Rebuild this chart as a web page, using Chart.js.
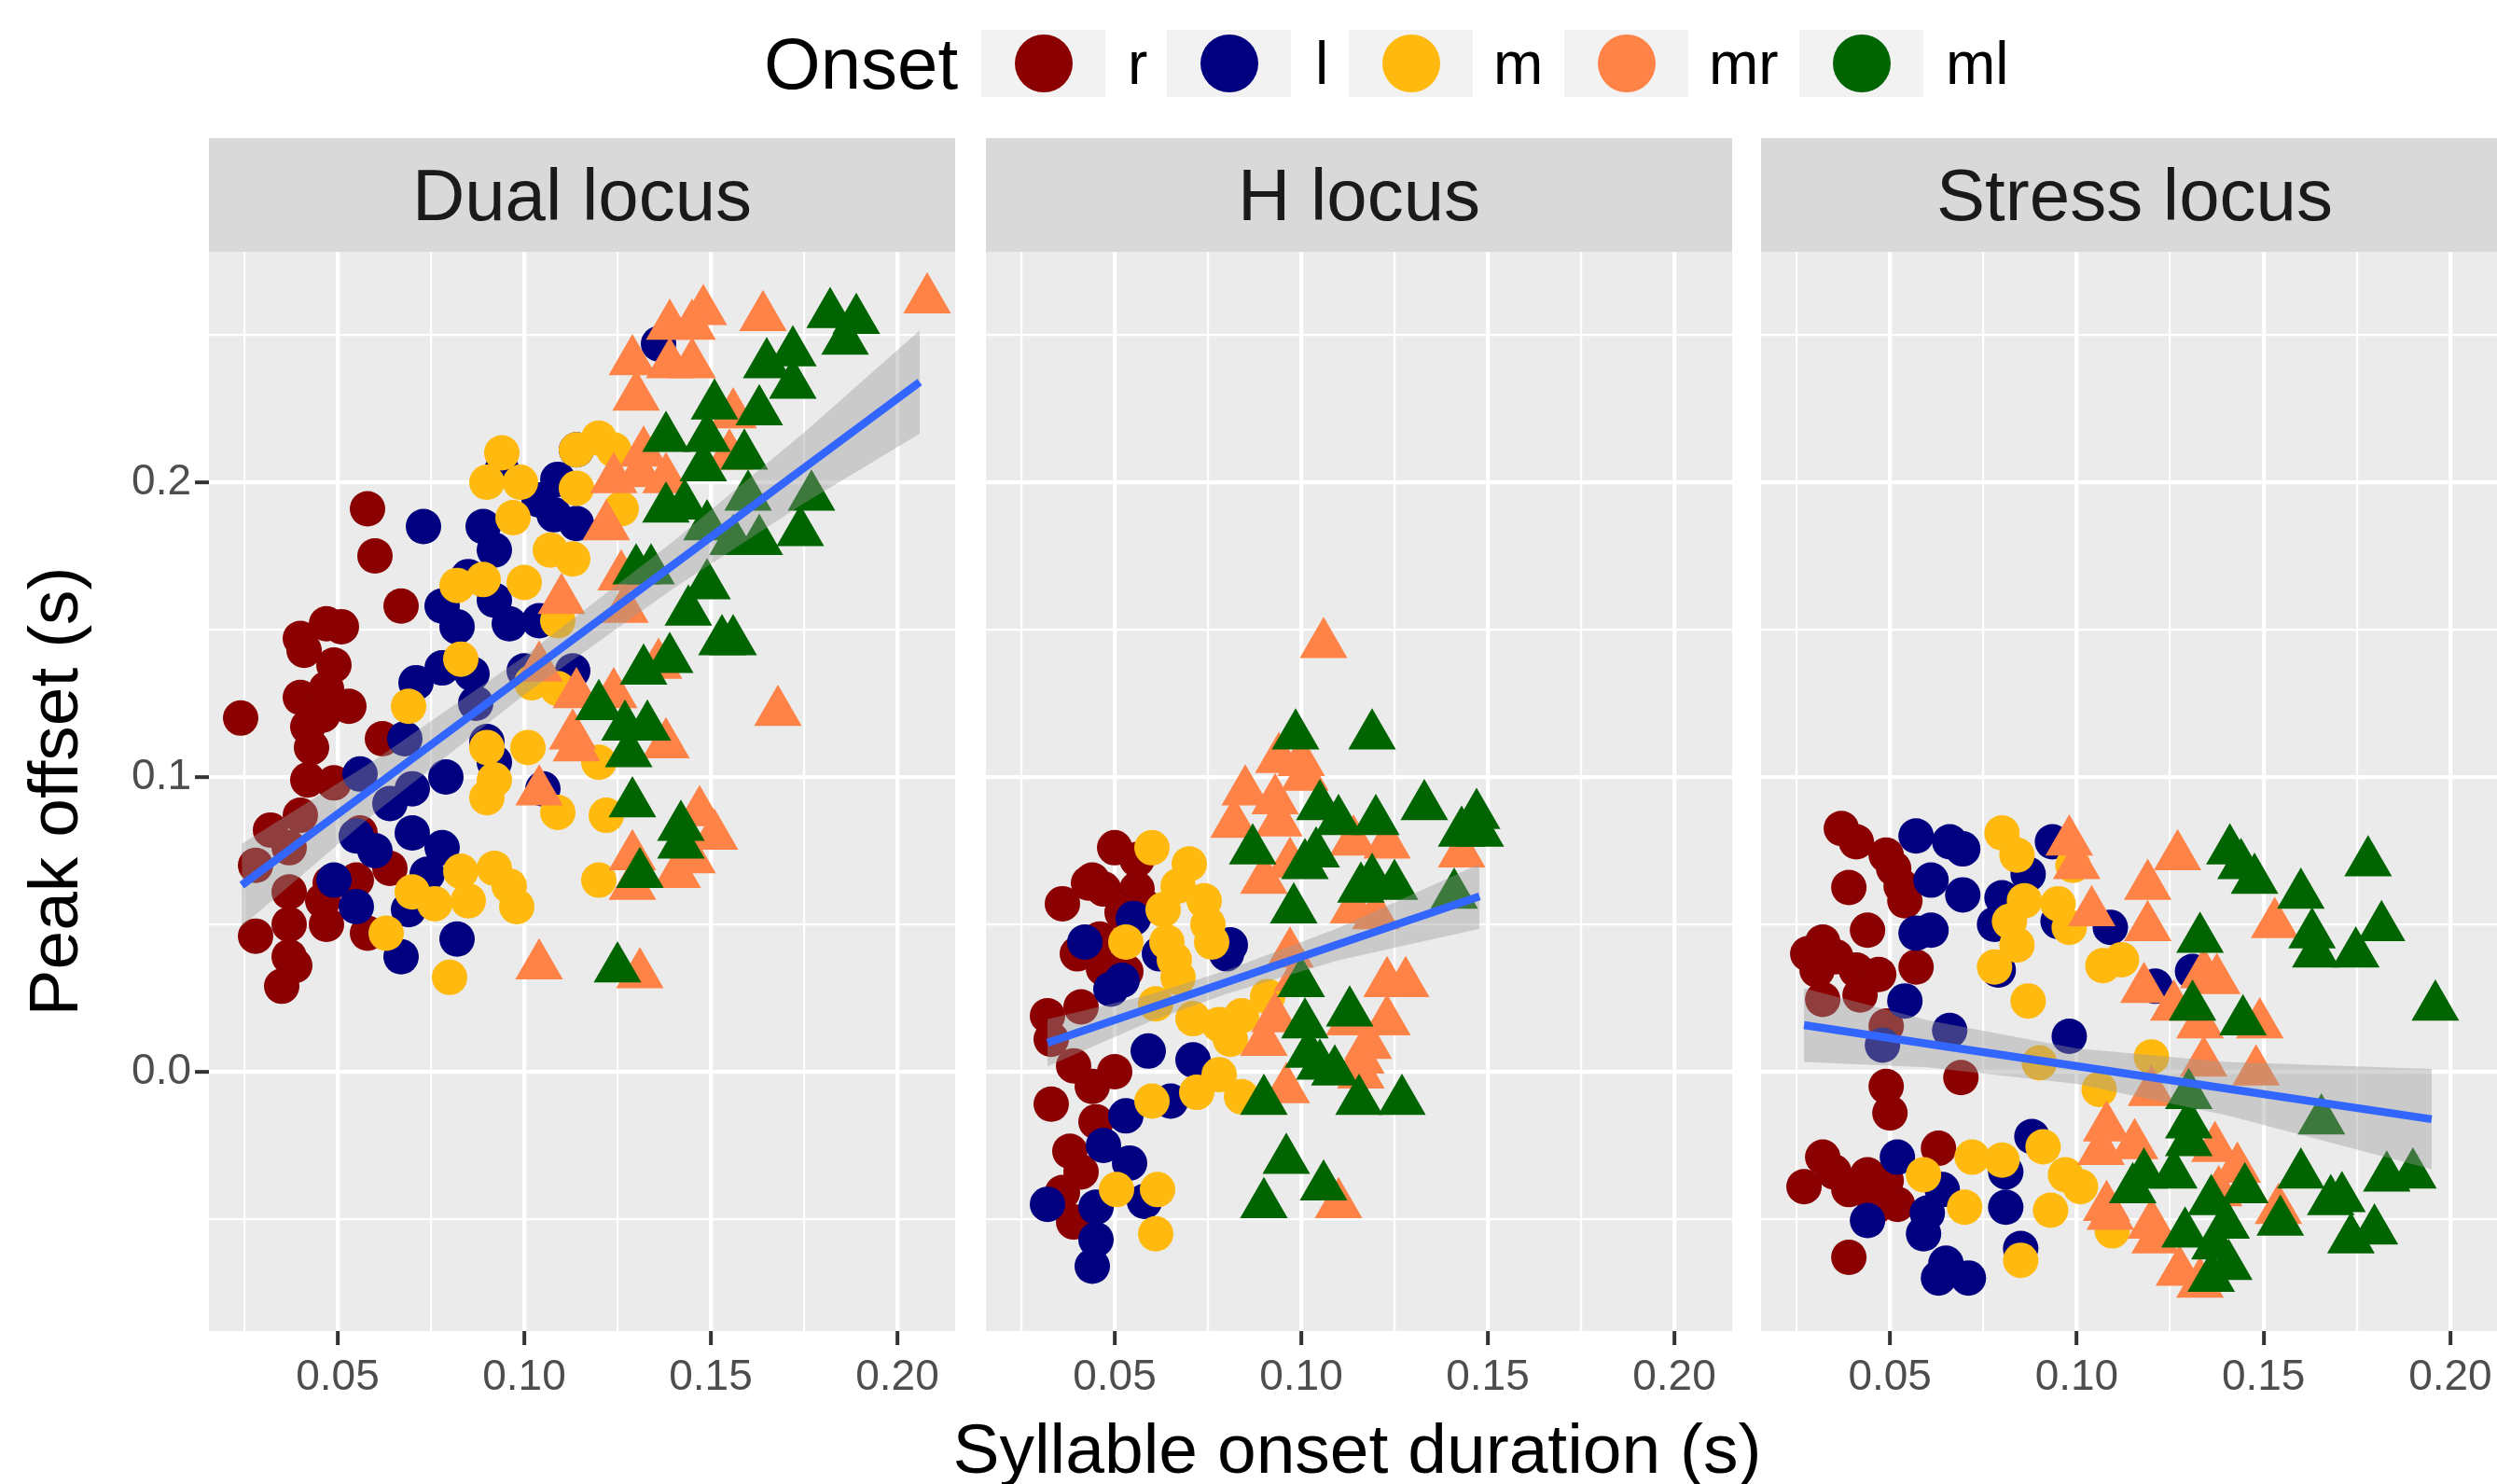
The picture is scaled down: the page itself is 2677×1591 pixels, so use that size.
<!DOCTYPE html>
<html lang="en">
<head>
<meta charset="UTF-8">
<title>Peak offset by syllable onset duration</title>
<script src="https://cdn.jsdelivr.net/npm/chart.js"></script>
<style>
    body { margin: 0; width: 2677px; height: 1591px; overflow: hidden; background: #fff; position: relative;
           font-family: "Liberation Sans", Arial, sans-serif; }
    canvas { position: absolute; top: 230px; }
    .strip { position: absolute; top: 148px; height: 122px; line-height: 122px; background: #D9D9D9;
             color: #1A1A1A; font-size: 78px; text-align: center; }
    .key { position: absolute; top: 32px; width: 133px; height: 72px; background: #F2F2F2; }
    .key span { position: absolute; left: 36px; top: 5px; width: 62px; height: 62px; border-radius: 50%; }
    .lab { position: absolute; top: 32px; height: 72px; line-height: 72px; font-size: 64px; color: #000; }
    #xtitle { position: absolute; left: 0; width: 2910px; top: 1516px; font-size: 75px; line-height: 75px;
              text-align: center; color: #000; }
</style>
</head>
<body>

<div class="lab" style="left: 819px; font-size: 78px;">Onset</div>
<div id="legend"></div>

<div class="strip" style="left: 224px; width: 800px;" id="strip0"></div>
<div class="strip" style="left: 1057px; width: 800px;" id="strip1"></div>
<div class="strip" style="left: 1888px; width: 801px;" id="strip2"></div>

<canvas id="dual" width="1024" height="1361" style="left: 0;"></canvas>
<canvas id="hloc" width="800" height="1361" style="left: 1057px;"></canvas>
<canvas id="stress" width="801" height="1361" style="left: 1888px;"></canvas>

<div id="xtitle">Syllable onset duration (s)</div>

<script>
// categories
const onsets = ['r', 'l', 'm', 'mr', 'ml'];
const onsetColours = ['#8B0000', '#000080', '#FFB90F', '#FF8247', '#006400'];
const onsetShapes = ['circle', 'circle', 'circle', 'triangle', 'triangle'];
const panelTitles = ['Dual locus', 'H locus', 'Stress locus'];

// tick positions (minor + major)
const xTicks = [0.025, 0.05, 0.075, 0.1, 0.125, 0.15, 0.175, 0.2];
const yTicks = [-0.05, 0, 0.05, 0.1, 0.15, 0.2, 0.25];

// Dual locus: [onset duration, peak offset]
const dualR = [[0.058,0.191],[0.060,0.175],[0.067,0.158],[0.047,0.152],[0.051,0.151],[0.040,0.147],
    [0.024,0.120],[0.041,0.143],[0.049,0.138],[0.040,0.127],[0.047,0.130],[0.053,0.124],[0.042,0.117],
    [0.046,0.121],[0.043,0.110],[0.042,0.099],[0.049,0.098],[0.062,0.113],[0.040,0.087],[0.032,0.082],
    [0.028,0.070],[0.037,0.076],[0.037,0.061],[0.046,0.058],[0.028,0.046],[0.037,0.050],[0.047,0.050],
    [0.058,0.047],[0.037,0.039],[0.0385,0.036],[0.035,0.029],[0.056,0.081],[0.064,0.069],[0.055,0.065],
    [0.048,0.064]];
const dualL = [[0.136,0.247],[0.073,0.185],[0.089,0.185],[0.092,0.177],[0.094,0.204],[0.109,0.201],
    [0.104,0.194],[0.114,0.186],[0.108,0.189],[0.114,0.211],[0.078,0.158],[0.082,0.151],[0.092,0.160],
    [0.096,0.152],[0.104,0.153],[0.085,0.168],[0.071,0.132],[0.078,0.137],[0.086,0.135],[0.087,0.125],
    [0.068,0.113],[0.056,0.101],[0.079,0.100],[0.070,0.096],[0.064,0.091],[0.070,0.081],[0.055,0.080],
    [0.060,0.075],[0.074,0.067],[0.078,0.076],[0.049,0.065],[0.055,0.056],[0.069,0.055],[0.082,0.045],
    [0.067,0.039],[0.092,0.105],[0.105,0.096],[0.100,0.136],[0.113,0.136],[0.090,0.112]];
const dualM = [[0.094,0.210],[0.090,0.200],[0.099,0.200],[0.114,0.211],[0.120,0.215],[0.124,0.211],
    [0.114,0.198],[0.097,0.188],[0.126,0.191],[0.107,0.177],[0.113,0.174],[0.082,0.165],[0.089,0.167],
    [0.100,0.166],[0.109,0.153],[0.083,0.140],[0.069,0.124],[0.090,0.110],[0.101,0.110],[0.092,0.099],
    [0.090,0.093],[0.109,0.088],[0.122,0.087],[0.102,0.132],[0.109,0.130],[0.120,0.105],[0.120,0.065],
    [0.070,0.061],[0.083,0.068],[0.092,0.069],[0.096,0.063],[0.098,0.056],[0.085,0.058],[0.076,0.057],
    [0.063,0.047],[0.080,0.032]];
const dualMR = [[0.208,0.262],[0.164,0.256],[0.148,0.258],[0.145,0.253],[0.139,0.253],[0.129,0.241],
    [0.139,0.240],[0.145,0.240],[0.130,0.229],[0.156,0.223],[0.132,0.210],[0.155,0.209],[0.124,0.201],
    [0.131,0.203],[0.138,0.201],[0.122,0.185],[0.126,0.168],[0.110,0.160],[0.127,0.157],[0.104,0.137],
    [0.114,0.128],[0.124,0.128],[0.136,0.138],[0.168,0.122],[0.113,0.114],[0.114,0.110],[0.138,0.111],
    [0.104,0.095],[0.147,0.088],[0.151,0.080],[0.129,0.073],[0.145,0.072],[0.141,0.067],[0.129,0.063],
    [0.104,0.036],[0.131,0.033]];
const dualML = [[0.182,0.257],[0.189,0.255],[0.186,0.248],[0.172,0.244],[0.172,0.233],[0.165,0.240],
    [0.151,0.226],[0.163,0.224],[0.138,0.215],[0.149,0.215],[0.159,0.209],[0.148,0.205],[0.138,0.191],
    [0.143,0.192],[0.149,0.185],[0.160,0.195],[0.177,0.195],[0.174,0.183],[0.163,0.180],[0.156,0.180],
    [0.130,0.170],[0.134,0.170],[0.149,0.165],[0.144,0.156],[0.153,0.146],[0.156,0.146],[0.132,0.136],
    [0.139,0.140],[0.120,0.124],[0.127,0.117],[0.133,0.117],[0.128,0.108],[0.129,0.091],[0.142,0.083],
    [0.142,0.077],[0.131,0.067],[0.125,0.035]];
const dualFitX = [0.0243, 0.06, 0.10, 0.14, 0.175, 0.206];
const dualFitY = [0.0633, 0.0968, 0.1344, 0.172, 0.2049, 0.234];
const dualUpper = [0.0773, 0.1058, 0.1409, 0.180, 0.2169, 0.2515];
const dualLower = [0.0493, 0.0878, 0.1279, 0.164, 0.1929, 0.2165];

// H locus
const hR = [[0.050,0.076],[0.056,0.072],[0.044,0.065],[0.036,0.057],[0.047,0.062],[0.056,0.062],
    [0.052,0.054],[0.058,0.056],[0.043,0.064],[0.0525,0.0335],[0.032,0.019],[0.041,0.022],[0.033,0.011],
    [0.053,0.034],[0.047,0.035],[0.039,0.002],[0.050,0.000],[0.033,-0.011],[0.045,-0.017],[0.038,-0.027],
    [0.041,-0.034],[0.036,-0.041],[0.039,-0.051],[0.044,-0.005],[0.046,0.045],[0.040,0.040]];
const hL = [[0.042,0.044],[0.081,0.043],[0.059,0.007],[0.071,0.004],[0.065,-0.010],[0.053,-0.015],
    [0.054,-0.031],[0.032,-0.045],[0.045,-0.046],[0.058,-0.044],[0.045,-0.057],[0.044,-0.066],[0.080,0.040],
    [0.052,0.031],[0.049,0.028],[0.047,-0.025],[0.055,0.052],[0.062,0.040]];
const hM = [[0.060,0.076],[0.070,0.0705],[0.067,0.063],[0.063,0.055],[0.074,0.058],[0.075,0.050],
    [0.053,0.044],[0.064,0.044],[0.076,0.044],[0.066,0.038],[0.071,0.018],[0.078,0.016],[0.081,0.011],
    [0.084,0.019],[0.091,0.0255],[0.061,0.023],[0.060,-0.010],[0.072,-0.007],[0.078,-0.001],[0.084,-0.0085],
    [0.0505,-0.040],[0.0615,-0.040],[0.061,-0.055],[0.067,0.032]];
const hMR = [[0.106,0.145],[0.094,0.106],[0.100,0.105],[0.101,0.100],[0.085,0.095],[0.093,0.092],
    [0.082,0.084],[0.094,0.0845],[0.097,0.0705],[0.090,0.065],[0.114,0.078],[0.123,0.077],[0.143,0.074],
    [0.114,0.055],[0.120,0.053],[0.097,0.040],[0.123,0.030],[0.128,0.030],[0.123,0.017],[0.113,0.017],
    [0.118,0.009],[0.116,0.004],[0.093,0.018],[0.090,0.010],[0.096,-0.006],[0.110,-0.045],[0.116,-0.001],
    [0.099,0.032]];
const hML = [[0.0985,0.114],[0.119,0.114],[0.133,0.090],[0.147,0.087],[0.148,0.081],[0.143,0.081],
    [0.105,0.090],[0.110,0.085],[0.120,0.085],[0.087,0.075],[0.104,0.074],[0.101,0.070],[0.119,0.065],
    [0.125,0.063],[0.098,0.055],[0.141,0.060],[0.116,0.062],[0.113,0.020],[0.101,0.016],[0.102,0.006],
    [0.109,0.000],[0.1155,-0.010],[0.127,-0.010],[0.090,-0.010],[0.096,-0.030],[0.106,-0.039],[0.090,-0.045],
    [0.100,0.030],[0.105,0.002]];
const hFitX = [0.032, 0.06, 0.08, 0.11, 0.1478];
const hFitY = [0.0098, 0.0218, 0.0304, 0.0433, 0.0595];
const hUpper = [0.0178, 0.0263, 0.0344, 0.0488, 0.0705];
const hLower = [0.0018, 0.0173, 0.0264, 0.0378, 0.0485];

// Stress locus
const stressR = [[0.037,0.0825],[0.041,0.078],[0.049,0.0735],[0.051,0.069],[0.053,0.063],[0.039,0.0625],
    [0.054,0.058],[0.044,0.048],[0.032,0.044],[0.028,0.040],[0.0355,0.039],[0.041,0.0345],[0.047,0.033],
    [0.057,0.0355],[0.032,0.0245],[0.042,0.026],[0.049,0.0155],[0.0305,0.0345],[0.069,-0.002],[0.049,-0.005],
    [0.050,-0.014],[0.063,-0.026],[0.032,-0.029],[0.035,-0.034],[0.027,-0.039],[0.039,-0.040],[0.044,-0.035],
    [0.049,-0.037],[0.046,-0.046],[0.052,-0.045],[0.039,-0.063]];
const stressL = [[0.057,0.080],[0.066,0.078],[0.0695,0.0756],[0.061,0.065],[0.0695,0.060],[0.057,0.047],
    [0.061,0.048],[0.054,0.024],[0.066,0.014],[0.098,0.012],[0.109,0.049],[0.0935,0.078],[0.087,0.067],
    [0.080,0.059],[0.078,0.050],[0.095,0.051],[0.121,0.029],[0.131,0.034],[0.079,0.0345],[0.048,0.009],
    [0.052,-0.029],[0.044,-0.0505],[0.064,-0.040],[0.060,-0.048],[0.059,-0.055],[0.065,-0.065],[0.063,-0.070],
    [0.071,-0.070],[0.081,-0.034],[0.081,-0.046],[0.088,-0.022],[0.085,-0.060]];
const stressM = [[0.080,0.081],[0.084,0.0735],[0.086,0.058],[0.082,0.051],[0.084,0.043],[0.078,0.0355],
    [0.098,0.049],[0.095,0.057],[0.099,0.070],[0.107,0.036],[0.112,0.038],[0.087,0.024],[0.090,0.003],
    [0.120,0.005],[0.059,-0.035],[0.072,-0.029],[0.070,-0.046],[0.080,-0.030],[0.091,-0.0255],[0.097,-0.035],
    [0.101,-0.039],[0.093,-0.047],[0.085,-0.064],[0.106,-0.006],[0.1095,-0.054]];
const stressMR = [[0.098,0.078],[0.100,0.070],[0.127,0.073],[0.119,0.063],[0.104,0.054],[0.119,0.049],
    [0.153,0.050],[0.134,0.033],[0.1375,0.031],[0.118,0.028],[0.126,0.022],[0.133,0.016],[0.149,0.016],
    [0.134,0.003],[0.148,0.000],[0.108,-0.019],[0.1155,-0.025],[0.1065,-0.027],[0.108,-0.046],[0.109,-0.049],
    [0.120,-0.052],[0.137,-0.026],[0.143,-0.033],[0.145,-0.040],[0.138,-0.041],[0.154,-0.047],[0.1275,-0.068],
    [0.133,-0.072],[0.120,-0.007],[0.121,-0.057]];
const stressML = [[0.141,0.075],[0.144,0.070],[0.1476,0.065],[0.178,0.071],[0.160,0.060],[0.163,0.0465],
    [0.1816,0.049],[0.1747,0.040],[0.164,0.040],[0.133,0.045],[0.131,0.022],[0.1445,0.017],[0.196,0.022],
    [0.130,-0.008],[0.1655,-0.0166],[0.130,-0.018],[0.130,-0.024],[0.118,-0.035],[0.126,-0.035],[0.160,-0.035],
    [0.183,-0.036],[0.190,-0.035],[0.145,-0.040],[0.136,-0.044],[0.171,-0.043],[0.168,-0.044],[0.1545,-0.051],
    [0.140,-0.052],[0.1734,-0.057],[0.1797,-0.054],[0.137,-0.059],[0.1407,-0.066],[0.136,-0.070],[0.115,-0.040],
    [0.129,-0.055]];
const stressFitX = [0.027, 0.06, 0.10, 0.14, 0.195];
const stressFitY = [0.0158, 0.0095, 0.0019, -0.0057, -0.0161];
const stressUpper = [0.0283, 0.0175, 0.0079, 0.0033, 0.0009];
const stressLower = [0.0033, 0.0015, -0.0041, -0.0147, -0.0331];

Chart.defaults.font.family = '"Liberation Sans", Arial, sans-serif';

// strips + legend
panelTitles.forEach((t, i) => { document.getElementById('strip' + i).textContent = t; });
const keyLeft = [1052, 1251, 1446, 1677, 1929];
const labLeft = [1209, 1410, 1601, 1832, 2086];
let legendHtml = '';
onsets.forEach((o, i) => {
    legendHtml += `<div class="key" style="left:${keyLeft[i]}px"><span style="background:${onsetColours[i]}"></span></div>`;
    legendHtml += `<div class="lab" style="left:${labLeft[i]}px">${o}</div>`;
});
document.getElementById('legend').innerHTML = legendHtml;

// grey panel background behind the grid
const panelBackground = {
    id: 'panelBackground',
    beforeDraw(chart) {
        const a = chart.chartArea;
        const ctx = chart.ctx;
        ctx.save();
        ctx.fillStyle = '#EBEBEB';
        ctx.fillRect(a.left, a.top, a.right - a.left, a.bottom - a.top);
        ctx.restore();
    }
};

function isStep(v, step) {
    return Math.abs(v / step - Math.round(v / step)) < 1e-6;
}
function points(pairs) {
    return pairs.map(p => ({x: p[0], y: p[1]}));
}
function curve(xs, ys) {
    return xs.map((x, i) => ({x: x, y: ys[i]}));
}

function makePanel(id, groups, fitX, fitY, upper, lower, first) {
    const datasets = groups.map((g, i) => ({
        label: onsets[i],
        data: points(g),
        pointStyle: onsetShapes[i],
        pointRadius: onsetShapes[i] === 'triangle' ? 29.5 : 19,
        pointBackgroundColor: onsetColours[i],
        backgroundColor: onsetColours[i],
        pointBorderWidth: 0,
        borderWidth: 0,
        order: 20 - i
    }));
    // confidence band, then the fitted line on top
    datasets.push({ data: curve(fitX, upper), showLine: true, pointRadius: 0, borderWidth: 0,
                    borderColor: 'rgba(0,0,0,0)', fill: false, order: 2 });
    datasets.push({ data: curve(fitX, lower), showLine: true, pointRadius: 0, borderWidth: 0,
                    borderColor: 'rgba(0,0,0,0)', backgroundColor: 'rgba(153,153,153,0.4)', fill: '-1', order: 1 });
    datasets.push({ data: curve(fitX, fitY), showLine: true, pointRadius: 0, borderColor: '#3366FF',
                    borderWidth: 8.5, fill: false, order: 0 });

    return new Chart(document.getElementById(id), {
        type: 'scatter',
        data: { datasets: datasets },
        plugins: [panelBackground],
        options: {
            responsive: false,
            animation: false,
            events: [],
            layout: { autoPadding: false, padding: { top: 40, left: 0, right: 0, bottom: 0 } },
            plugins: { legend: { display: false }, tooltip: { enabled: false } },
            scales: {
                x: {
                    type: 'linear', min: 0.0155, max: 0.2155,
                    afterBuildTicks: axis => { axis.ticks = xTicks.map(v => ({value: v})); },
                    afterFit: axis => { axis.height = 164; },
                    border: { display: false },
                    grid: {
                        color: '#FFFFFF',
                        lineWidth: c => (c.tick && isStep(c.tick.value, 0.05)) ? 4.3 : 2.2,
                        tickLength: 15,
                        tickWidth: 4,
                        tickColor: c => (c.tick && isStep(c.tick.value, 0.05)) ? '#333333' : 'rgba(0,0,0,0)'
                    },
                    ticks: {
                        autoSkip: false, maxRotation: 0, padding: 8, color: '#4D4D4D',
                        font: { size: 46 },
                        callback: v => isStep(v, 0.05) ? v.toFixed(2) : ''
                    }
                },
                y: {
                    type: 'linear', min: -0.088, max: 0.2782,
                    afterBuildTicks: axis => { axis.ticks = yTicks.map(v => ({value: v})); },
                    afterFit: axis => { axis.width = first ? 224 : 0; },
                    border: { display: false },
                    grid: {
                        color: '#FFFFFF',
                        lineWidth: c => (c.tick && isStep(c.tick.value, 0.1)) ? 4.3 : 2.2,
                        drawTicks: first,
                        tickLength: 15,
                        tickWidth: 4,
                        tickColor: c => (c.tick && isStep(c.tick.value, 0.1)) ? '#333333' : 'rgba(0,0,0,0)'
                    },
                    ticks: {
                        display: first, autoSkip: false, padding: 4, color: '#4D4D4D',
                        font: { size: 46 },
                        callback: v => isStep(v, 0.1) ? v.toFixed(1) : ''
                    },
                    title: {
                        display: first, text: 'Peak offset (s)', color: '#000000',
                        font: { size: 75, lineHeight: 1 }, padding: { top: 25 }
                    }
                }
            }
        }
    });
}

makePanel('dual', [dualR, dualL, dualM, dualMR, dualML], dualFitX, dualFitY, dualUpper, dualLower, true);
makePanel('hloc', [hR, hL, hM, hMR, hML], hFitX, hFitY, hUpper, hLower, false);
makePanel('stress', [stressR, stressL, stressM, stressMR, stressML], stressFitX, stressFitY, stressUpper, stressLower, false);
</script>
</body>
</html>
